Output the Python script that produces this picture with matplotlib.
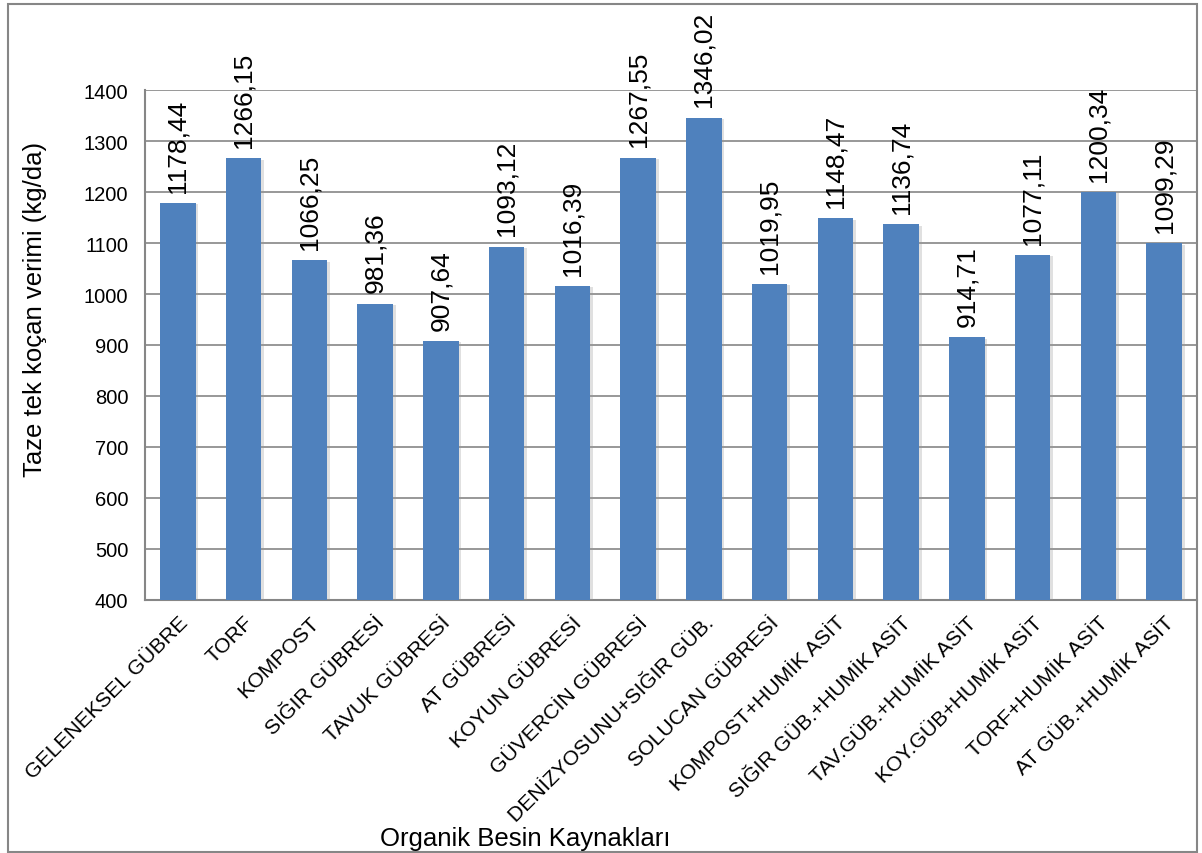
"""
Bar chart of fresh ear yield for organic nutrient sources
"""

import matplotlib
matplotlib.use("Agg")
from matplotlib import pyplot as plt
from matplotlib import patheffects
from matplotlib.patches import Rectangle

plt.rcParams["font.family"] = ["Liberation Sans", "DejaVu Sans"]

# Data
categories = [
    "GELENEKSEL GÜBRE", "TORF", "KOMPOST", "SIĞIR GÜBRESİ", "TAVUK GÜBRESİ",
    "AT GÜBRESİ", "KOYUN GÜBRESİ", "GÜVERCİN GÜBRESİ", "DENİZYOSUNU+SIĞIR GÜB.",
    "SOLUCAN GÜBRESİ", "KOMPOST+HUMİK ASİT", "SIĞIR GÜB.+HUMİK ASİT",
    "TAV.GÜB.+HUMİK ASİT", "KOY.GÜB+HUMİK ASİT", "TORF+HUMİK ASİT",
    "AT GÜB.+HUMİK ASİT",
]
yields = [
    1178.44, 1266.15, 1066.25, 981.36, 907.64, 1093.12, 1016.39, 1267.55,
    1346.02, 1019.95, 1148.47, 1136.74, 914.71, 1077.11, 1200.34, 1099.29,
]
y_ticks = list(range(400, 1401, 100))

# Figure
fig = plt.figure(figsize=(12.02, 8.54), dpi=100)
ax = fig.add_axes([0.1206, 0.2963, 0.8752, 0.5971])

# Outer chart border
fig.patches.append(Rectangle((8 / 1202, 1 - 853 / 854), 1189 / 1202, 848 / 854,
                             transform=fig.transFigure, fill=False,
                             edgecolor="#868686", linewidth=1.5))

x = range(len(categories))
bars = ax.bar(x, yields, width=0.54, bottom=0, color="#4F81BD", zorder=3)
for b in bars:
    b.set_path_effects([patheffects.SimplePatchShadow(offset=(2, -1), shadow_rgbFace="#999999", alpha=0.3),
                        patheffects.Normal()])

# Value labels above bars
for xi, v in zip(x, yields):
    ax.annotate(f"{v:.2f}".replace(".", ","), (xi, v), xytext=(0, 8),
                textcoords="offset points", rotation=90, ha="center", va="bottom",
                fontsize=19, annotation_clip=False, zorder=4)

ax.set_xlim(-0.5, len(categories) - 0.5)
ax.set_ylim(400, 1400)
ax.set_yticks(y_ticks)
ax.set_xticks(list(x))
ax.set_xticklabels(categories, rotation=45, ha="right", rotation_mode="anchor", fontsize=15.2)
ax.tick_params(axis="y", labelsize=14.5, length=0, pad=12)
ax.tick_params(axis="x", length=0, pad=9)
ax.grid(axis="y", color="#868686", linewidth=1.2, zorder=0)
ax.set_axisbelow(True)

for side in ["top", "right"]:
    ax.spines[side].set_visible(False)
for side in ["left", "bottom"]:
    ax.spines[side].set_color("#868686")
    ax.spines[side].set_linewidth(1.5)

fig.text(35 / 1202, 1 - 309 / 854, "Taze tek koçan verimi (kg/da)", fontsize=18.5,
         rotation=90, ha="center", va="center")
fig.text(525 / 1202, 1 - 839 / 854, "Organik Besin Kaynakları", fontsize=18.5,
         ha="center", va="center")

plt.savefig("out.png", dpi=100)
